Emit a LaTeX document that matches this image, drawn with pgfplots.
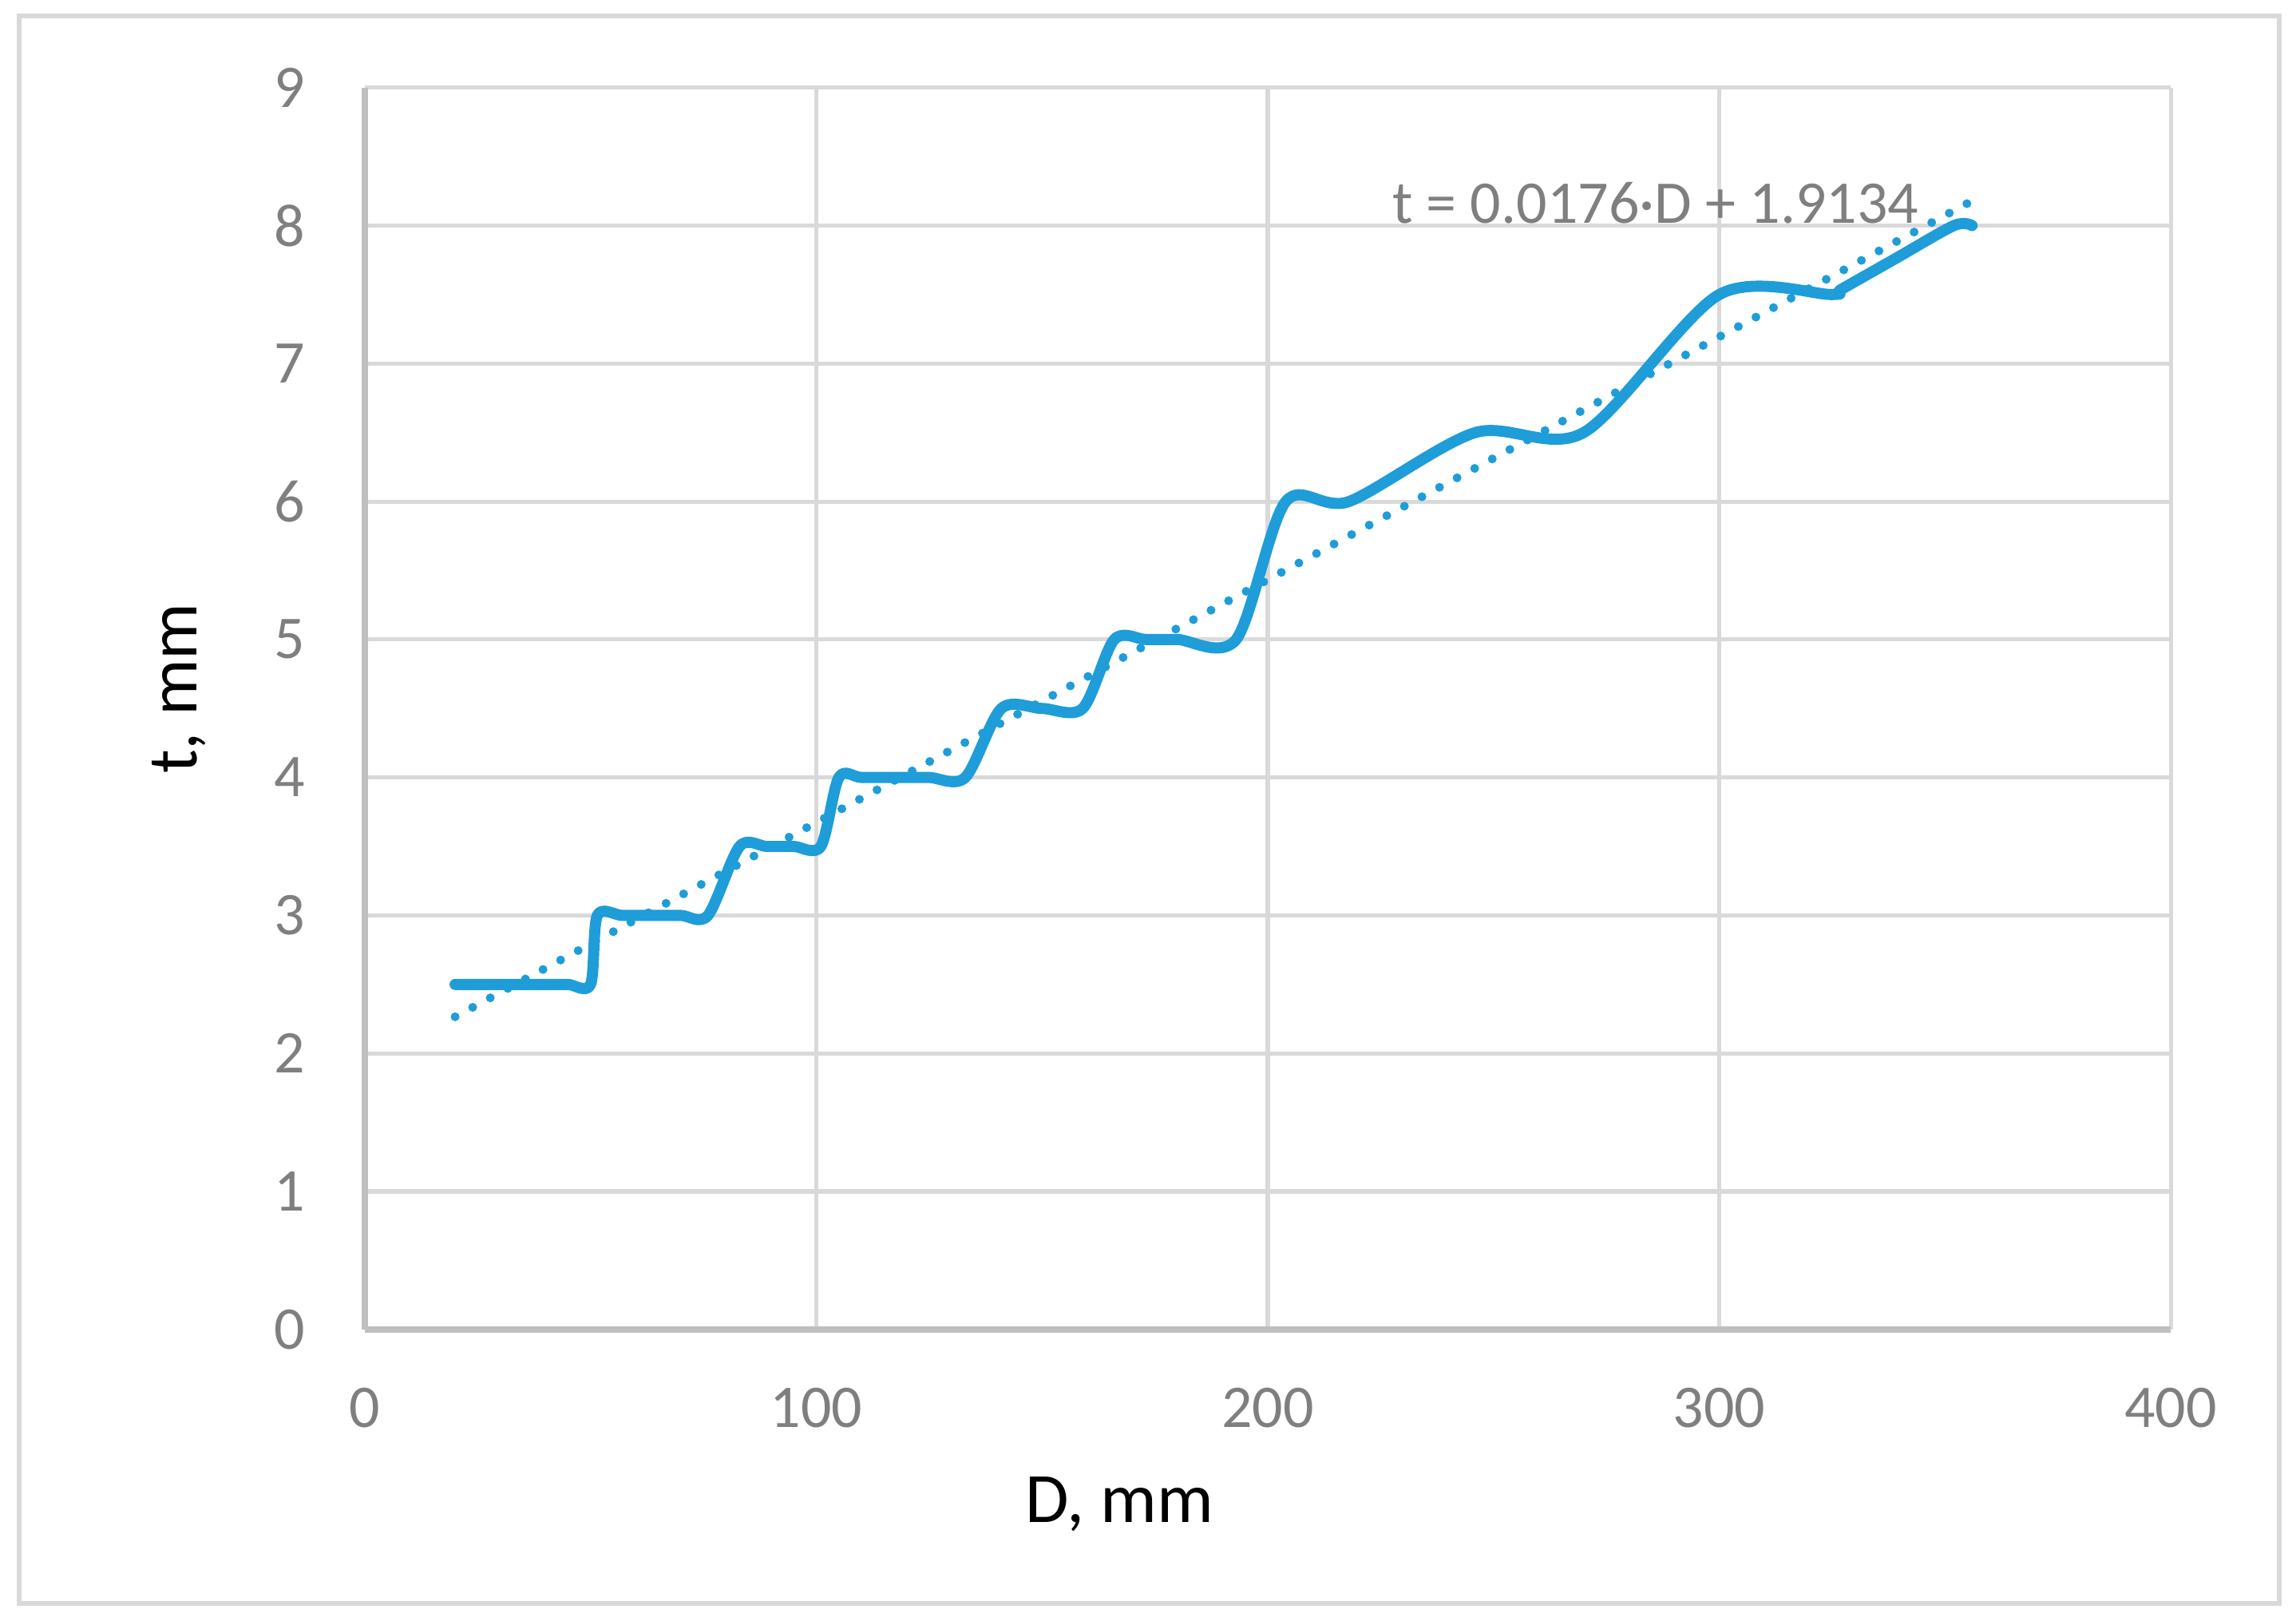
\documentclass[border=0pt]{standalone}
\usepackage{pgfplots}
\pgfplotsset{compat=1.18}
\usepackage{fontspec}
\setmainfont{Carlito}
\definecolor{lineblue}{HTML}{1E9DD8}
\definecolor{gridgray}{HTML}{D9D9D9}
\definecolor{axisgray}{HTML}{BFBFBF}
\definecolor{ticktext}{HTML}{7F7F7F}
\begin{document}
\begin{tikzpicture}
\path[use as bounding box] (0,0) rectangle (454.4pt,320.7pt);
\draw[gridgray, line width=0.95pt] (3.74pt,3.48pt) rectangle (451.0pt,317.5pt);
\begin{axis}[
  at={(72.2pt,57.67pt)}, anchor=south west,
  scale only axis, width=357.4pt, height=245.7pt,
  xmin=0, xmax=400, ymin=0, ymax=9,
  xtick={0,100,...,400}, ytick={0,1,...,9},
  grid=major, major grid style={gridgray, line width=0.8pt},
  axis x line*=bottom, axis y line*=left,
  axis line style={axisgray, line width=1.26pt, -},
  major tick length=0pt,
  tick label style={font=\fontsize{12}{14}\selectfont, text=ticktext},
  /pgf/number format/assume math mode=true,
  xticklabel style={anchor=north, inner sep=0pt, yshift=-11.4pt},
  yticklabel style={anchor=east, inner sep=0pt, xshift=-11.7pt},
]
\addplot[lineblue, line width=2.2pt, smooth, tension=0.5, line cap=round, line join=round] coordinates {
(20,2.5) (25,2.5) (30,2.5) (35,2.5) (40,2.5) (45,2.5) (50,2.5)
(51.5,3) (57,3) (63,3) (70,3) (76,3)
(83,3.5) (89,3.5) (95,3.5) (101,3.5)
(105,4) (110,4) (118,4) (125,4) (133,4)
(141,4.5) (150,4.5) (159,4.5)
(166,5) (173,5) (180,5) (193,5)
(204,6) (218,6) (246,6.5) (270,6.5) (300,7.5) (325,7.5)
(327,7.537) (339,7.76) (352,8) (356,8)
};
\addplot[lineblue, line width=1.75pt, line cap=round, dash pattern=on 0pt off 3.95pt] coordinates {
(20,2.2654) (356,8.1790)
};
\end{axis}
\node[anchor=base, font=\fontsize{14}{17}\selectfont] at (221.5pt,19.48pt) {D, mm};
\node[anchor=base, rotate=90, font=\fontsize{14}{17}\selectfont] at (38.87pt,184.5pt) {t, mm};
\node[anchor=base west, inner sep=0pt, font=\fontsize{12}{14}\selectfont, text=ticktext] at (275.4pt,276.5pt) {t = 0.0176·D + 1.9134};
\end{tikzpicture}
\end{document}
